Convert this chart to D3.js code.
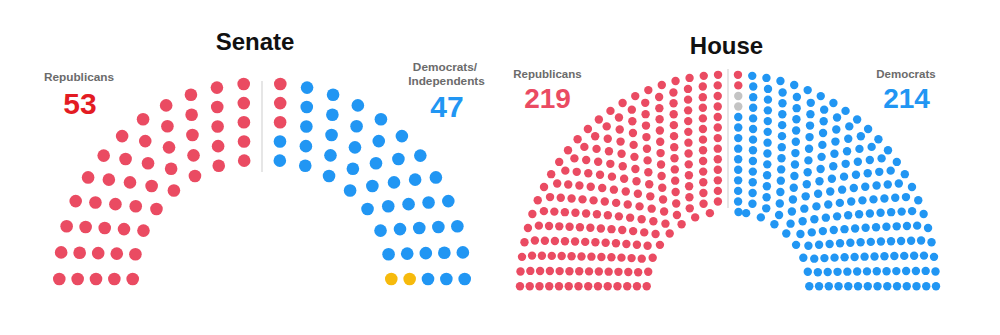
<!DOCTYPE html>
<html>
<head>
<meta charset="utf-8">
<script src="https://cdn.jsdelivr.net/npm/d3@7"></script>
<style>
  html, body { margin: 0; padding: 0; background: #ffffff; }
  svg { display: block; font-family: "Liberation Sans", Arial, Helvetica, sans-serif; }
</style>
</head>
<body>
<svg id="chart" width="1000" height="335"></svg>
<script>
// ---------------- DATA ----------------
const senateRowSeats = [16, 18, 20, 22, 24];            // seats per arc row, inner -> outer
const senatePartyNames = ["Republicans", "Democrats", "Independents"];
const senatePartySeats = [53, 45, 2];
const senatePartyColors = ["#EA4B62", "#2196F3", "#F6BA0C"];

const houseRowSeats = [17, 20, 22, 24, 26, 28, 30, 32, 34, 36, 38, 40, 42, 46];
const housePartyNames = ["Republicans", "Vacant", "Democrats"];
const housePartySeats = [219, 2, 214];
const housePartyColors = ["#EA4B62", "#C4C4C4", "#2196F3"];

const titles = ["Senate", "House"];
const senateLabels = ["Republicans", "53", ["Democrats/", "Independents"], "47"];
const houseLabels = ["Republicans", "219", "Democrats", "214"];

// ---------------- LAYOUT ----------------
const svg = d3.select("#chart");

function seatLayout(rows, partySeats, partyColors, cfg) {
  const aScale = d3.scaleLinear().domain([0, rows.length - 1]).range([cfg.aIn, cfg.aOut]);
  const bScale = d3.scaleLinear().domain([0, rows.length - 1]).range([cfg.bIn, cfg.bOut]);
  const seats = [];
  rows.forEach((n, i) => {
    const step = Math.PI / (n - 1);
    for (let j = 0; j < n; j++) {
      let th = Math.PI - j * step;
      if (n % 2 === 1 && j === (n - 1) / 2) th = Math.PI / 2 - step / 2;
      seats.push({ th, row: i, a: aScale(i), b: bScale(i) });
    }
  });
  seats.sort((p, q) => {
    const d = q.th - p.th;
    if (Math.abs(d) > 1e-9) return d;
    return q.row - p.row;
  });
  const cum = d3.cumsum(partySeats);
  seats.forEach((s, k) => {
    const pi = d3.bisectRight(Array.from(cum), k);
    s.color = partyColors[pi];
    const side = s.th > Math.PI / 2 + 1e-9 ? -1 : 1;
    s.x = cfg.cx + side * cfg.gap + s.a * Math.cos(s.th);
    s.y = cfg.cy - s.b * Math.sin(s.th);
  });
  return seats;
}

function drawChamber(g, seats, cfg) {
  g.append("line")
    .attr("x1", cfg.cx).attr("x2", cfg.cx)
    .attr("y1", cfg.divTop).attr("y2", cfg.divBottom)
    .attr("stroke", "#d6d6d6").attr("stroke-width", 1.2);
  g.selectAll("circle.seat").data(seats).join("circle")
    .attr("class", "seat")
    .attr("cx", d => d.x).attr("cy", d => d.y)
    .attr("r", cfg.dotR)
    .attr("fill", d => d.color);
}

// Senate
const senateCfg = { cx: 262, cy: 279, gap: 4.8, aIn: 124.5, aOut: 197.9, bIn: 119, bOut: 195.5,
                    dotR: 6.3, divTop: 81, divBottom: 172 };
const senate = seatLayout(senateRowSeats, senatePartySeats, senatePartyColors, senateCfg);
drawChamber(svg.append("g"), senate, senateCfg);

// House
const houseCfg = { cx: 728, cy: 286.3, gap: 2.8, aIn: 78.5, aOut: 205.2, bIn: 74.6, bOut: 211.6,
                   dotR: 4.2, divTop: 69, divBottom: 208 };
const house = seatLayout(houseRowSeats, housePartySeats, housePartyColors, houseCfg);
drawChamber(svg.append("g"), house, houseCfg);

// ---------------- TEXT ----------------
function txt(x, y, s, size, weight, color) {
  return svg.append("text").attr("x", x).attr("y", y)
    .attr("text-anchor", "middle")
    .attr("font-size", size).attr("font-weight", weight)
    .attr("fill", color).text(s);
}
txt(255, 49.5, titles[0], 24, "bold", "#111111");
txt(726.5, 53.5, titles[1], 24, "bold", "#111111");

txt(79, 80.5, senateLabels[0], 11.8, "bold", "#6b6b6b");
txt(80, 113.5, senateLabels[1], 30, "bold", "#E31B23");
txt(445, 71, senateLabels[2][0], 11.8, "bold", "#6b6b6b");
txt(446.5, 85, senateLabels[2][1], 11.8, "bold", "#6b6b6b");
txt(447, 116.5, senateLabels[3], 30, "bold", "#2196F3");

txt(547.5, 77.5, houseLabels[0], 11.5, "bold", "#6b6b6b");
txt(547.5, 107.5, houseLabels[1], 28, "bold", "#EA4B62");
txt(906, 77.5, houseLabels[2], 11.5, "bold", "#6b6b6b");
txt(906.5, 108, houseLabels[3], 28, "bold", "#2196F3");
</script>
</body>
</html>
